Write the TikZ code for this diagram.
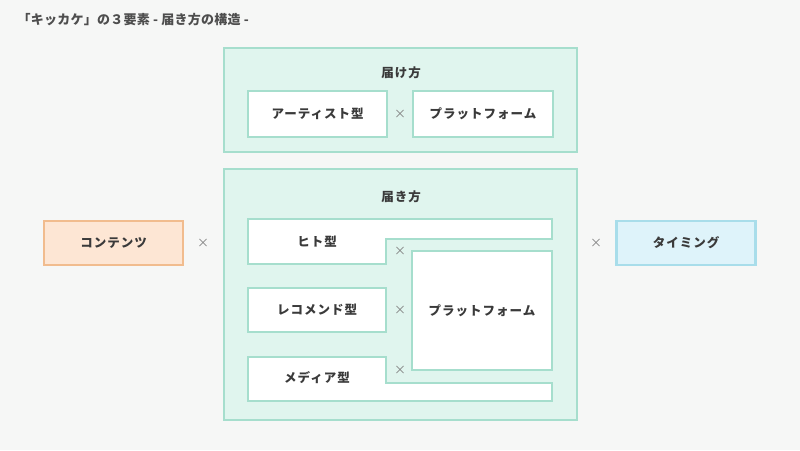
\documentclass[tikz,border=0pt]{standalone}
\usepackage{fontspec}
\setmainfont{Noto Sans CJK JP}
\newfontfamily\spacedjp{Noto Sans CJK JP}[LetterSpace=8]
\newfontfamily\titlejp{Noto Sans CJK JP}[LetterSpace=2]
\usetikzlibrary{calc}

\definecolor{bggray}{HTML}{F6F7F6}
\definecolor{mint}{HTML}{E0F5EE}
\definecolor{mintline}{HTML}{A6DECD}
\definecolor{peach}{HTML}{FDE6D4}
\definecolor{peachline}{HTML}{F1BC8E}
\definecolor{sky}{HTML}{DEF3FA}
\definecolor{skyline}{HTML}{A8DDEA}
\definecolor{inkgray}{HTML}{3A3A3A}

\begin{document}
\begin{tikzpicture}[x=1pt,y=-1pt,
		font=\spacedjp\fontsize{12.5}{14}\selectfont\bfseries,text=inkgray,
		outerbox/.style={draw=mintline,fill=mint,line width=2.5pt,inner sep=0pt},
		whitebox/.style={draw=mintline,fill=white,line width=2.5pt,inner sep=0pt},
		sidebox/.style={line width=2.5pt,inner sep=0pt,minimum width=139,minimum height=44},
		times/.style={font=\fontsize{12}{14}\selectfont,text=gray}
	]

  \fill[bggray] (0,0) rectangle (800,450);
  \useasboundingbox (0,0) rectangle (800,450);

  \node[anchor=west,font=\titlejp\fontsize{13}{15}\selectfont\bfseries,text=inkgray!90] (title) at (14,20) {「キッカケ」の３要素 - 届き方の構造 -};

  % 届け方
  \node[outerbox,minimum width=353,minimum height=104] (todoke) at (400.5,100) {};
  \node (todoketitle) at (401,73) {届け方};
  \node[whitebox,minimum width=139,minimum height=46] (artist) at (317.5,114) {アーティスト型};
  \node[whitebox,minimum width=140,minimum height=46] (platA) at (483,114) {プラットフォーム};
  \node[times] (xA) at (400,114) {×};

  % 届き方
  \node[outerbox,minimum width=353,minimum height=251] (todoki) at (400.5,294.5) {};
  \node (todokititle) at (401,197) {届き方};
  \draw[whitebox] (248,219) -- (552,219) -- (552,239) -- (386,239) -- (386,264) -- (248,264) -- cycle;
  \node (hito) at (317,242) {ヒト型};
  \node[whitebox,minimum width=138,minimum height=44] (recommend) at (317,310) {レコメンド型};
  \draw[whitebox] (248,357) -- (386,357) -- (386,383) -- (552,383) -- (552,401) -- (248,401) -- cycle;
  \node (media) at (317,378) {メディア型};
  \node[whitebox,minimum width=140,minimum height=119] (platB) at (482,310.5) {プラットフォーム};
  \node[times] (xB) at (400,251) {×};
  \node[times] (xC) at (400,310) {×};
  \node[times] (xD) at (400,370) {×};

  % 両脇
  \node[sidebox,draw=peachline,fill=peach] (contents) at (113.5,243) {コンテンツ};
  \node[sidebox,draw=skyline,fill=sky] (timing) at (686,243) {タイミング};
  \node[times] (xL) at (203,243) {×};
  \node[times] (xR) at (596,243) {×};

\end{tikzpicture}
\end{document}
